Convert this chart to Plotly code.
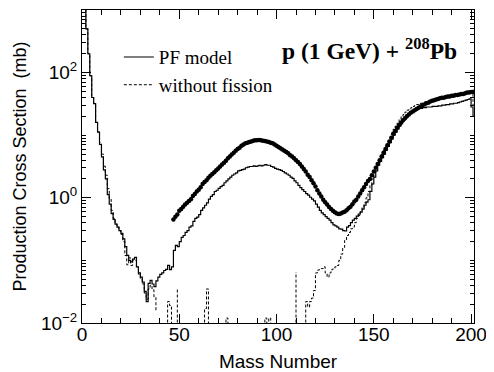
import plotly.graph_objects as go

# ---------------- data ----------------
# PF model (solid histogram), mass number 1..202
pf_mass = list(range(1, 203))
pf_xsec = [
    2000, 500, 200, 89, 40, 32, 16, 11.2, 7.1, 4.5,
    2.8, 2.0, 1.12, 0.79, 0.56, 0.45, 0.38, 0.34, 0.30, 0.27,
    0.22, 0.166, 0.12, 0.10, 0.095, 0.105, 0.112, 0.079, 0.063, 0.054,
    0.045, 0.032, 0.022, 0.043, 0.048, 0.042, 0.038, 0.047, 0.054, 0.060,
    0.063, 0.069, 0.072, 0.083, 0.071, 0.079, 0.145, 0.174, 0.166, 0.20,
    0.234, 0.25, 0.28, 0.30, 0.34, 0.355, 0.42, 0.47, 0.49, 0.54,
    0.63, 0.69, 0.76, 0.83, 0.95, 1.05, 1.12, 1.26, 1.32, 1.41,
    1.51, 1.58, 1.74, 1.86, 2.0, 2.14, 2.29, 2.4, 2.51, 2.69,
    2.75, 2.82, 2.88, 3.02, 3.09, 3.16, 3.16, 3.24, 3.16, 3.24,
    3.31, 3.24, 3.31, 3.39, 3.31, 3.31, 3.16, 3.09, 2.95, 2.88,
    2.82, 2.75, 2.63, 2.51, 2.4, 2.29, 2.14, 2.04, 1.86, 1.74,
    1.58, 1.45, 1.35, 1.26, 1.17, 1.10, 1.02, 0.95, 0.89, 0.79,
    0.71, 0.63, 0.575, 0.54, 0.50, 0.47, 0.44, 0.40, 0.37, 0.355,
    0.34, 0.32, 0.316, 0.30, 0.295, 0.34, 0.36, 0.40, 0.44, 0.47,
    0.51, 0.55, 0.59, 0.66, 0.76, 0.85, 0.93, 1.26, 1.66, 2.14,
    2.69, 3.31, 3.8, 4.37, 5.0, 5.75, 6.6, 7.6, 8.7, 10.0,
    11.2, 12.6, 14.1, 15.8, 17.4, 19.1, 20.9, 22.4, 23.4, 24.5,
    25.7, 26.3, 26.9, 26.9, 27.5, 27.5, 28.2, 28.2, 28.2, 28.8,
    28.8, 28.8, 29.5, 29.5, 30.2, 30.2, 30.9, 30.9, 31.6, 31.6,
    32.4, 32.4, 33.1, 33.9, 34.7, 35.5, 36.3, 37.2, 38.0, 28.2,
    20.0, 20.0,
]

# without fission (dotted histogram); None = empty bins (line broken)
nf_mass = (list(range(1, 40))
           + [43, 44, 45, 46, 47]
           + [48, 49, 50]
           + [62, 63, 64, 65, 66]
           + [73, 74, 75, 76]
           + [93, 94, 95, 96, 97, 98]
           + [109, 110, 111]
           + list(range(114, 203)))
nf_xsec = [
    2000, 500, 200, 89, 40, 32, 16, 11.2, 7.6, 5.0,
    3.2, 2.3, 1.4, 0.95, 0.63, 0.47, 0.38, 0.34, 0.30, 0.26,
    0.20, 0.12, 0.085, 0.11, 0.083, 0.10, 0.10, 0.08, 0.06, 0.05,
    0.042, 0.03, 0.024, 0.035, 0.04, 0.034, 0.026, 0.016, None,
    0.001, 0.022, 0.019, 0.001, None,
    0.001, 0.035, None,
    0.001, 0.017, 0.035, 0.001, None,
    0.001, 0.012, 0.001, None,
    0.001, 0.012, 0.001, 0.012, 0.001, None,
    0.001, 0.065, None,
    0.001, 0.022, 0.018, 0.022, 0.025, 0.033, 0.063, 0.07, 0.072, 0.074,
    0.079, 0.063, 0.054, 0.063, 0.071, 0.074, 0.079, 0.083, 0.10, 0.126,
    0.16, 0.21, 0.25, 0.28, 0.32, 0.34, 0.40, 0.47, 0.52, 0.60,
    0.71, 0.83, 1.0, 1.26, 1.58, 2.0, 2.5, 3.0, 3.55, 4.2,
    5.0, 5.75, 6.6, 7.6, 8.9, 10.5, 12.6, 14.1, 15.8, 17.8,
    20.0, 21.4, 23.4, 25.1, 26.3, 27.5, 28.8, 30.2, 30.9, 31.6,
    32.4, 33.1, 33.9, 34.7, 35.5, 36.3, 37.2, 38.0, 38.0, 38.9,
    39.8, 39.8, 40.7, 40.7, 41.7, 41.7, 42.7, 42.7, 43.7, 43.7,
    44.7, 44.7, 45.7, 45.7, 46.8, 46.8, 47.9, 30.0, 30.0,
]

# experimental data (black dots), mass number 47..202
exp_mass = list(range(47, 203))
exp_xsec = [
    0.45, 0.50, 0.54, 0.62, 0.66, 0.72, 0.78, 0.83, 0.89, 0.95,
    1.07, 1.15, 1.26, 1.35, 1.48, 1.66, 1.78, 1.91, 2.09, 2.24,
    2.40, 2.57, 2.75, 2.95, 3.16, 3.39, 3.63, 3.89, 4.27, 4.57,
    4.90, 5.25, 5.62, 6.03, 6.31, 6.76, 7.08, 7.41, 7.59, 7.76,
    7.94, 8.13, 8.32, 8.32, 8.35, 8.30, 8.13, 8.10, 7.94, 7.76,
    7.59, 7.41, 7.08, 6.76, 6.46, 6.17, 5.89, 5.62, 5.37, 5.13,
    4.79, 4.57, 4.27, 3.98, 3.72, 3.47, 3.16, 2.88, 2.63, 2.34,
    2.14, 1.91, 1.70, 1.51, 1.32, 1.17, 1.05, 0.93, 0.85, 0.78,
    0.71, 0.66, 0.62, 0.59, 0.56, 0.55, 0.56, 0.58, 0.60, 0.63,
    0.68, 0.72, 0.79, 0.87, 0.93, 1.05, 1.17, 1.32, 1.48, 1.66,
    1.86, 2.0, 2.29, 2.63, 3.02, 3.47, 3.98, 4.57, 5.25, 6.03,
    6.92, 7.94, 9.12, 10.5, 11.7, 13.2, 14.5, 15.8, 17.4, 18.6,
    20.0, 21.4, 22.9, 24.0, 25.1, 26.3, 27.5, 28.8, 30.2, 30.9,
    32.4, 33.1, 34.7, 35.5, 36.3, 37.2, 38.0, 38.9, 39.8, 39.8,
    40.7, 41.7, 41.7, 42.7, 42.7, 43.7, 43.7, 44.7, 45.7, 45.7,
    46.8, 47.9, 47.9, 49.0, 49.0, 50.1,
]

x_tickvals = [0, 50, 100, 150, 200]
y_tickvals = [0.01, 1, 100]
y_ticktext = ["10<sup>\u22122</sup>", "10<sup>0</sup>", "10<sup>2</sup>"]
x_minor = [10, 20, 30, 40, 60, 70, 80, 90, 110, 120, 130, 140, 160, 170, 180, 190]
y_minor = [m * 10 ** e for e in (-2, -1, 0, 1, 2) for m in range(2, 10)] + [0.1, 10, 1000]

# ---------------- figure ----------------
SANS = "Liberation Sans, Arial, Helvetica, sans-serif"
SERIF = "Liberation Serif, Times New Roman, serif"

fig = go.Figure()
fig.add_trace(go.Scatter(
    x=exp_mass, y=exp_xsec, mode="markers", showlegend=False,
    marker=dict(color="black", size=4.5, line=dict(width=0)),
))
fig.add_trace(go.Scatter(
    x=pf_mass, y=pf_xsec, mode="lines", name="PF model",
    line=dict(color="black", width=1.2, shape="hv"),
))
fig.add_trace(go.Scatter(
    x=nf_mass, y=nf_xsec, mode="lines", name="without fission",
    connectgaps=False,
    line=dict(color="black", width=1, shape="hv", dash="3px,2px"),
))

# the page body adds an 8px margin, so the figure is drawn 8px smaller
fig.update_layout(
    width=486, height=364,
    margin=dict(l=74, r=20, t=2, b=49, autoexpand=False),
    paper_bgcolor="white", plot_bgcolor="white",
    font=dict(family=SANS, size=18, color="black"),
    showlegend=True,
    legend=dict(
        x=0.094, y=0.91, xanchor="left", yanchor="top",
        bgcolor="rgba(0,0,0,0)", borderwidth=0,
        font=dict(family=SERIF, size=19, color="black"),
        tracegroupgap=0, itemwidth=30,
    ),
    annotations=[dict(
        text="<b>p (1 GeV) + <sup>208</sup>Pb</b>",
        xref="paper", yref="paper", x=0.963, y=0.874,
        xanchor="right", yanchor="middle", showarrow=False,
        font=dict(family=SERIF, size=23.5, color="black"),
    )],
)

fig.update_xaxes(
    range=[0, 201.5], showgrid=False, zeroline=False, automargin=False,
    showline=True, linecolor="black", linewidth=1, mirror="ticks",
    ticks="inside", ticklen=9, tickcolor="black", tickwidth=1,
    tickmode="array", tickvals=x_tickvals, ticklabelstandoff=-6,
    tickfont=dict(family=SANS, size=19),
    minor=dict(tickmode="array", tickvals=x_minor, ticks="inside",
               ticklen=5, tickcolor="black", tickwidth=1, showgrid=False),
    title=dict(text="Mass Number", font=dict(family=SANS, size=19), standoff=11),
)
fig.update_yaxes(
    type="log", range=[-2, 3], showgrid=False, zeroline=False, automargin=False,
    showline=True, linecolor="black", linewidth=1, mirror="ticks",
    ticks="inside", ticklen=9, tickcolor="black", tickwidth=1,
    tickmode="array", tickvals=y_tickvals, ticktext=y_ticktext,
    tickfont=dict(family=SANS, size=19),
    minor=dict(tickmode="array", tickvals=y_minor, ticks="inside",
               ticklen=4, tickcolor="black", tickwidth=1, showgrid=False),
    title=dict(text="Production Cross Section \u00a0(mb)",
               font=dict(family=SANS, size=18), standoff=9),
)

fig.write_html("out.html")
